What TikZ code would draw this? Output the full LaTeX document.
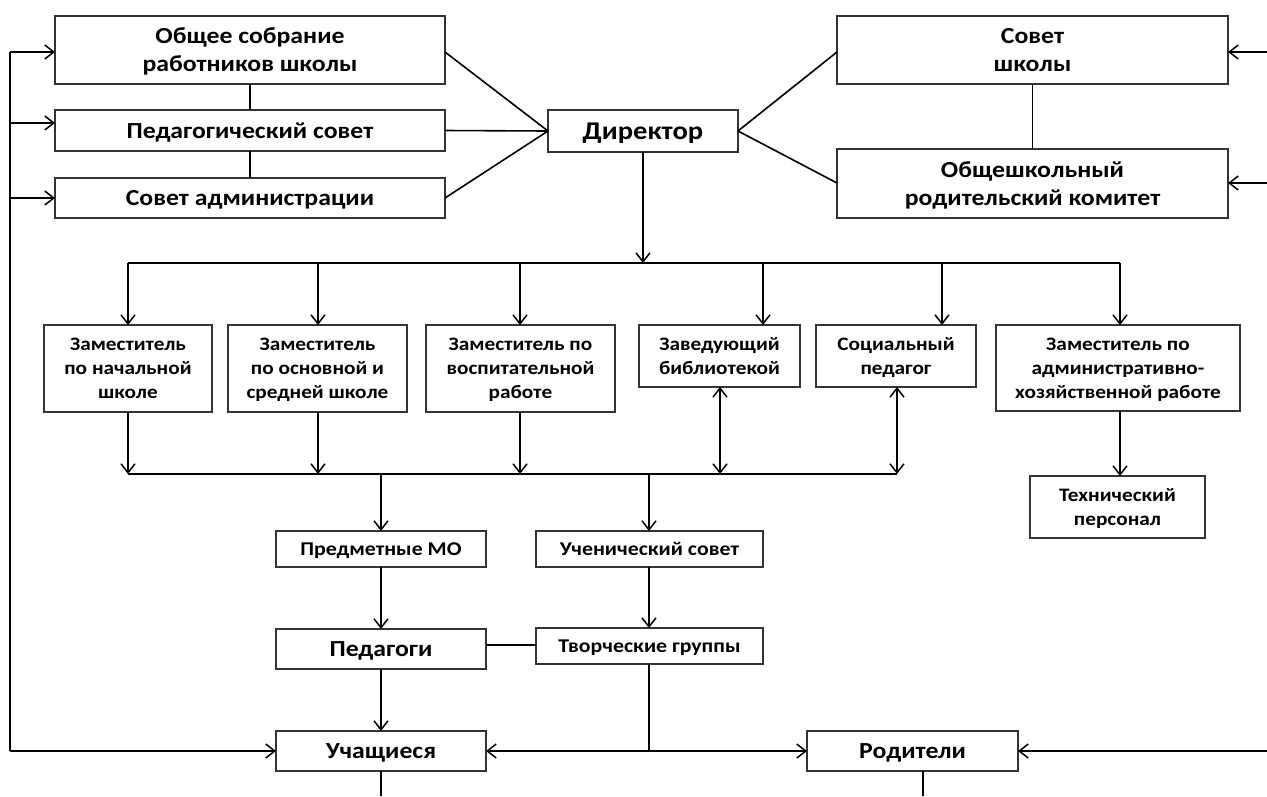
\documentclass[tikz,border=0pt]{standalone}
\usepackage{fontspec}
\setmainfont{Carlito}[FakeStretch=1.12]
\usetikzlibrary{arrows.meta}
\tikzset{
  box/.style={draw=black!80, line width=1.4pt, fill=white, inner sep=0pt, outer sep=0pt, align=center, text depth=0pt, font=\bfseries},
  big/.style={font=\fontsize{23}{28}\selectfont\bfseries},
  dir/.style={font=\fontsize{25.5}{28}\selectfont\bfseries},
  mid/.style={font=\fontsize{23}{26}\selectfont\bfseries},
  zrow/.style={font=\fontsize{19}{23.8}\selectfont\bfseries},
  sml/.style={font=\fontsize{19.5}{23.8}\selectfont\bfseries},
  ln/.style={line width=1.6pt, draw=black},
  arr/.style={ln, -{Straight Barb[length=9pt,width=14pt,line width=1.5pt]}},
  darr/.style={ln, {Straight Barb[length=9pt,width=14pt,line width=1.5pt]}-{Straight Barb[length=9pt,width=14pt,line width=1.5pt]}},
}
\begin{document}
\begin{tikzpicture}[x=1pt,y=-1pt]
\useasboundingbox[fill=white] (0,0) rectangle (1267,796);
% top row
\node[box,big,minimum width=390,minimum height=68] (A) at (250,50) {Общее собрание\\работников школы};
\node[box,big,minimum width=390,minimum height=41] (B) at (250,130.5) {Педагогический совет};
\node[box,big,minimum width=390,minimum height=40] (C) at (250,198) {Совет администрации};
\node[box,dir,minimum width=190,minimum height=42] (D) at (643,131) {Директор};
\node[box,big,minimum width=391,minimum height=68] (E) at (1032.5,50) {Совет\\школы};
\node[box,big,minimum width=391,minimum height=69] (F) at (1032.5,183.5) {Общешкольный\\родительский комитет};
% second row
\node[box,zrow,minimum width=168,minimum height=87] (Z1) at (128,368.5) {Заместитель\\по начальной\\школе};
\node[box,zrow,minimum width=179,minimum height=87] (Z2) at (317.5,368.5) {Заместитель\\по основной и\\средней школе};
\node[box,zrow,minimum width=189,minimum height=87] (Z3) at (520.5,368.5) {Заместитель по\\воспитательной\\работе};
\node[box,zrow,minimum width=161,minimum height=62] (Z4) at (719.5,356) {Заведующий\\библиотекой};
\node[box,zrow,minimum width=160,minimum height=62] (Z5) at (896,356) {Социальный\\педагог};
\node[box,zrow,minimum width=244,minimum height=86] (Z6) at (1118,368) {Заместитель по\\административно-\\хозяйственной работе};
\node[box,zrow,minimum width=175,minimum height=62] (T) at (1117.5,507) {Технический\\персонал};
% lower
\node[box,sml,minimum width=210,minimum height=36] (P) at (381,549) {Предметные МО};
\node[box,sml,minimum width=227,minimum height=36] (U) at (649.5,549) {Ученический совет};
\node[box,mid,minimum width=210,minimum height=40] (Ped) at (381,649) {Педагоги};
\node[box,sml,minimum width=227,minimum height=36] (Tv) at (649.5,646) {Творческие группы};
\node[box,mid,minimum width=210,minimum height=40] (Uch) at (381,751) {Учащиеся};
\node[box,mid,minimum width=211,minimum height=40] (R) at (912.5,751) {Родители};
% coordinates
\coordinate (railT) at (10,52);
\coordinate (railB) at (10,751);
\coordinate (railB2) at (10,123);
\coordinate (railC) at (10,198);
\coordinate (edgeE) at (1267,52);
\coordinate (edgeF) at (1267,183);
\coordinate (edgeR) at (1267,751);
\coordinate (busD) at (643,263);
\coordinate (busL) at (128,263);
\coordinate (busR) at (1120,263);
\coordinate (bbL) at (128,474);
\coordinate (bbR) at (897,474);
\coordinate (jP) at (381,474);
\coordinate (jU) at (649,474);
\coordinate (jTv) at (649,751);
\coordinate (uchB) at (381,796);
\coordinate (rB) at (923,796);
% left rail
\draw[ln] (railT) -- (railB);
\draw[arr] (railT) -- (A.west |- railT);
\draw[arr] (railB2) -- (B.west |- railB2);
\draw[arr] (railC) -- (C.west);
\draw[arr] (railB) -- (Uch.west);
% vertical links top-left
\draw[ln] (A.south) -- (B.north);
\draw[ln] (B.south) -- (C.north);
% to director
\draw[ln] (A.east |- railT) -- (D.west);
\draw[ln] (B.east) -- (D.west);
\draw[ln] (C.east) -- (D.west);
\draw[ln] (D.east) -- (E.west |- edgeE);
\draw[ln] (D.east) -- (F.west |- edgeF);
\draw[ln] (E.south) -- (F.north);
\draw[arr] (edgeE) -- (E.east |- edgeE);
\draw[arr] (edgeF) -- (F.east |- edgeF);
% director to bus
\draw[arr] (D.south) -- (busD);
\draw[ln] (busL) -- (busR);
\draw[arr] (busL) -- (Z1.north);
\draw[arr] (318,263) -- (Z2.north -| 318,0);
\draw[arr] (520,263) -- (Z3.north -| 520,0);
\draw[arr] (763,263) -- (Z4.north -| 763,0);
\draw[arr] (942,263) -- (Z5.north -| 942,0);
\draw[arr] (busR) -- (Z6.north -| busR);
% bottom bus
\draw[ln] (bbL) -- (bbR);
\draw[arr] (Z1.south) -- (bbL);
\draw[arr] (Z2.south -| 318,0) -- (318,474);
\draw[arr] (Z3.south -| 520,0) -- (520,474);
\draw[darr] (Z4.south -| 720,0) -- (720,474);
\draw[darr] (Z5.south -| 897,0) -- (bbR);
\draw[arr] (Z6.south -| busR) -- (T.north -| busR);
\draw[arr] (jP) -- (P.north);
\draw[arr] (jU) -- (U.north -| jU);
\draw[arr] (P.south) -- (Ped.north);
\draw[arr] (U.south -| jU) -- (Tv.north -| jU);
\draw[ln] (Ped.east |- 0,645) -- (Tv.west |- 0,645);
\draw[arr] (Ped.south) -- (Uch.north);
\draw[ln] (Tv.south -| jTv) -- (jTv);
\draw[arr] (jTv) -- (Uch.east);
\draw[arr] (jTv) -- (R.west);
\draw[arr] (edgeR) -- (R.east);
\draw[ln] (Uch.south) -- (uchB);
\draw[ln] (R.south -| rB) -- (rB);
\end{tikzpicture}
\end{document}
